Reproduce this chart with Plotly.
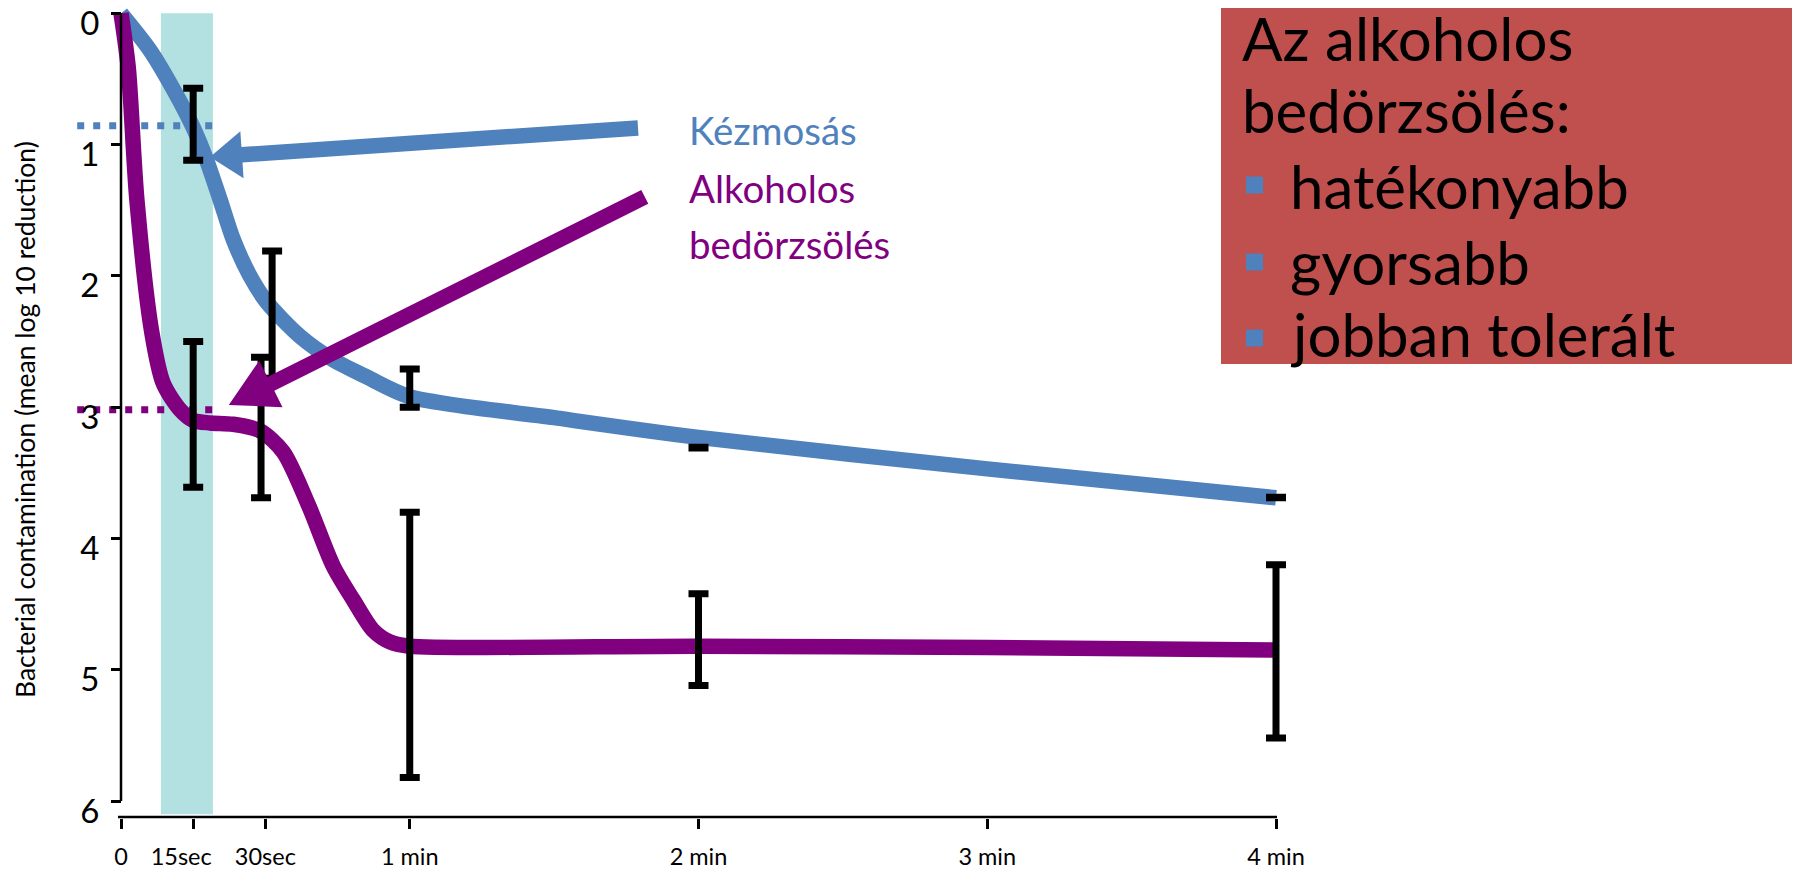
import math
import plotly.graph_objects as go

# ---------------- data ----------------
tick_seconds = [0, 15, 30, 60, 120, 180, 240]
tick_labels = ["0", "15sec\u00a0\u00a0\u00a0\u00a0", "30sec", "1 min", "2 min", "3 min", "4 min"]
y_ticks = [0, 1, 2, 3, 4, 5, 6]

# Kézmosás (hand washing) curve
handwash_t = [0, 6, 10.9, 15, 17.8, 20.6, 23.3, 26.8, 30.3, 37.2, 44.1, 51.1, 60, 90, 120, 180, 240]
handwash_log = [0, 0.28, 0.58, 0.87, 1.12, 1.42, 1.72, 2.0, 2.2, 2.46, 2.64, 2.77, 2.92, 3.08, 3.23, 3.47, 3.69]

# Alkoholos bedörzsölés (alcohol rub) curve
rub_t = [0, 1.5, 3.3, 6.4, 8.8, 12.3, 15, 18.5, 23.3, 28.9, 33.7, 39, 44.1, 48.3, 52.4, 56, 60, 120, 180, 240]
rub_log = [0, 0.41, 1.42, 2.43, 2.82, 3.02, 3.1, 3.12, 3.13, 3.18, 3.34, 3.75, 4.21, 4.47, 4.70, 4.79, 4.82, 4.82, 4.83, 4.85]

# error bars (low / high ends)
handwash_bar_t = [15, 31.4, 60, 120, 240]
handwash_bar_low = [0.57, 1.81, 2.71, 3.305, 3.685]
handwash_bar_high = [1.12, 2.78, 3.00, 3.31, 3.69]

rub_bar_t = [15, 29.1, 60, 120, 240]
rub_bar_low = [2.50, 2.62, 3.80, 4.42, 4.20]
rub_bar_high = [3.61, 3.69, 5.82, 5.12, 5.52]

# reference levels at 15 s
handwash_15s_level = 0.857
rub_15s_level = 3.02
ref_line_t = [-9.1, 19.1]
window_15s = [8.3, 19.1]

legend_lines = ["Kézmosás", "Alkoholos", "bedörzsölés"]
box_title = ["Az alkoholos", "bedörzsölés:"]
box_bullets = ["hatékonyabb", "gyorsabb", "jobban tolerált"]
y_title = "Bacterial contamination (mean log 10 reduction)"

# ---------------- style ----------------
OFF = 8  # page body margin
W, H = 1792, 863
PLOT_H = 818 - OFF
BLUE = "#4F81BD"
PURPLE = "#800080"
BAND = "#B3E1E1"
RED = "#C0504D"
FONT = "Lato"

X0_PX, PX_PER_S = 121.0 - OFF, 4.8125
Y0_PX, PX_PER_UNIT = 13.3 - OFF, 131.3
x_range = [(0 - X0_PX) / PX_PER_S, (W - X0_PX) / PX_PER_S]
y_range = [(PLOT_H - Y0_PX) / PX_PER_UNIT, (0 - Y0_PX) / PX_PER_UNIT]


def px_x(px):
    return (px - OFF) / W


def px_y(py):
    return 1 - (py - OFF) / PLOT_H


fig = go.Figure()

fig.add_trace(go.Scatter(x=handwash_t, y=handwash_log, mode="lines",
                         line=dict(color=BLUE, width=15.5, shape="spline", smoothing=0.8),
                         hoverinfo="skip"))
fig.add_trace(go.Scatter(x=rub_t, y=rub_log, mode="lines",
                         line=dict(color=PURPLE, width=15.5, shape="spline", smoothing=0.8),
                         hoverinfo="skip"))

for bt, lo, hi in [(handwash_bar_t, handwash_bar_low, handwash_bar_high),
                   (rub_bar_t, rub_bar_low, rub_bar_high)]:
    fig.add_trace(go.Scatter(
        x=bt, y=lo, mode="markers", marker=dict(size=1, opacity=0),
        error_y=dict(type="data", symmetric=False,
                     array=[h - l for h, l in zip(hi, lo)],
                     arrayminus=[0] * len(lo),
                     color="black", thickness=7, width=10),
        hoverinfo="skip"))

shapes = []
# 15 s window band
shapes.append(dict(type="rect", xref="x", yref="y", x0=window_15s[0], x1=window_15s[1],
                   y0=0, y1=6.1, fillcolor=BAND, line=dict(width=0), layer="below"))
# dotted reference lines
for lvl, col in [(handwash_15s_level, BLUE), (rub_15s_level, PURPLE)]:
    shapes.append(dict(type="line", xref="x", yref="y", x0=ref_line_t[0], x1=ref_line_t[1],
                       y0=lvl, y1=lvl, line=dict(color=col, width=7, dash="7px,9px"),
                       layer="below"))
# axis lines
shapes.append(dict(type="line", xref="x", yref="y", x0=0, x1=0, y0=0, y1=6,
                   line=dict(color="black", width=2.5)))
shapes.append(dict(type="line", xref="paper", yref="paper", x0=px_x(118), x1=px_x(1277),
                   y0=px_y(817), y1=px_y(817), line=dict(color="black", width=2.5)))


def arrow_path(dx, dy, head_len, head_w, shaft_w):
    L = math.hypot(dx, dy)
    ux, uy = dx / L, dy / L
    nx, ny = -uy, ux
    bx, by = ux * head_len, uy * head_len
    pts = [(0, 0),
           (bx + nx * head_w / 2, by + ny * head_w / 2),
           (bx + nx * shaft_w / 2, by + ny * shaft_w / 2),
           (dx + nx * shaft_w / 2, dy + ny * shaft_w / 2),
           (dx - nx * shaft_w / 2, dy - ny * shaft_w / 2),
           (bx - nx * shaft_w / 2, by - ny * shaft_w / 2),
           (bx - nx * head_w / 2, by - ny * head_w / 2)]
    return "M" + " L".join(f"{x:.1f},{y:.1f}" for x, y in pts) + " Z"


# arrows (tip in data coords, tail offset in pixels, y up)
for tip, off, hl, hw, col in [((18.5, 1.094), (428, 29), 32, 47, BLUE),
                              ((22.4, 2.983), (416, 208), 47, 52, PURPLE)]:
    shapes.append(dict(type="path", xref="x", yref="y", xsizemode="pixel", ysizemode="pixel",
                       xanchor=tip[0], yanchor=tip[1],
                       path=arrow_path(off[0], off[1], hl, hw, 15.5),
                       fillcolor=col, line=dict(width=0), layer="above"))

# red box
shapes.append(dict(type="rect", xref="paper", yref="paper", x0=px_x(1221), x1=1,
                   y0=px_y(364), y1=1, fillcolor=RED, line=dict(width=0), layer="above"))
bullet_centers = [185, 262, 338]
for cy in bullet_centers:
    shapes.append(dict(type="rect", xref="paper", yref="paper", x0=px_x(1246), x1=px_x(1263),
                       y0=px_y(cy + 8.5), y1=px_y(cy - 8.5), fillcolor=BLUE, line=dict(width=0),
                       layer="above"))

annotations = []
legend_colors = [BLUE, PURPLE, PURPLE]
legend_centers = [130, 188, 244]
for txt, col, cy in zip(legend_lines, legend_colors, legend_centers):
    annotations.append(dict(text=txt, xref="paper", yref="paper", x=px_x(687), y=px_y(cy),
                            xanchor="left", yanchor="middle", showarrow=False,
                            font=dict(family=FONT, size=38.5, color=col)))

box_centers = [38, 110, 186, 262, 334]
for i, txt in enumerate(box_title + box_bullets):
    left = 1240 if i < 2 else 1288
    annotations.append(dict(text=txt, xref="paper", yref="paper", x=px_x(left), y=px_y(box_centers[i]),
                            xanchor="left", yanchor="middle", showarrow=False,
                            font=dict(family=FONT, size=60, color="black")))

annotations.append(dict(text=y_title, xref="paper", yref="paper", x=px_x(25), y=px_y(420),
                        xanchor="center", yanchor="middle", textangle=-90, showarrow=False,
                        font=dict(family=FONT, size=26.5, color="black")))

fig.update_layout(
    width=W, height=H,
    margin=dict(l=0, r=0, t=0, b=H - PLOT_H, pad=0, autoexpand=False),
    paper_bgcolor="white", plot_bgcolor="white",
    showlegend=False, hovermode=False,
    shapes=shapes, annotations=annotations,
    xaxis=dict(range=x_range, tickvals=tick_seconds, ticktext=tick_labels,
               ticks="outside", ticklen=10, tickwidth=2.5, tickcolor="black",
               showgrid=False, zeroline=False, showline=False, tickangle=0, automargin=False,
               tickfont=dict(family=FONT, size=23.5, color="black"), ticklabelstandoff=8),
    yaxis=dict(range=y_range, tickvals=y_ticks, anchor="free", position=X0_PX / W,
               ticks="outside", ticklen=10, tickwidth=2.5, tickcolor="black",
               showgrid=False, zeroline=False, showline=False, automargin=False,
               tickfont=dict(family=FONT, size=33, color="black"), ticklabelshift=-10,
               ticklabelstandoff=5, ticklabeloverflow="allow"),
)

fig.write_html("out.html")
